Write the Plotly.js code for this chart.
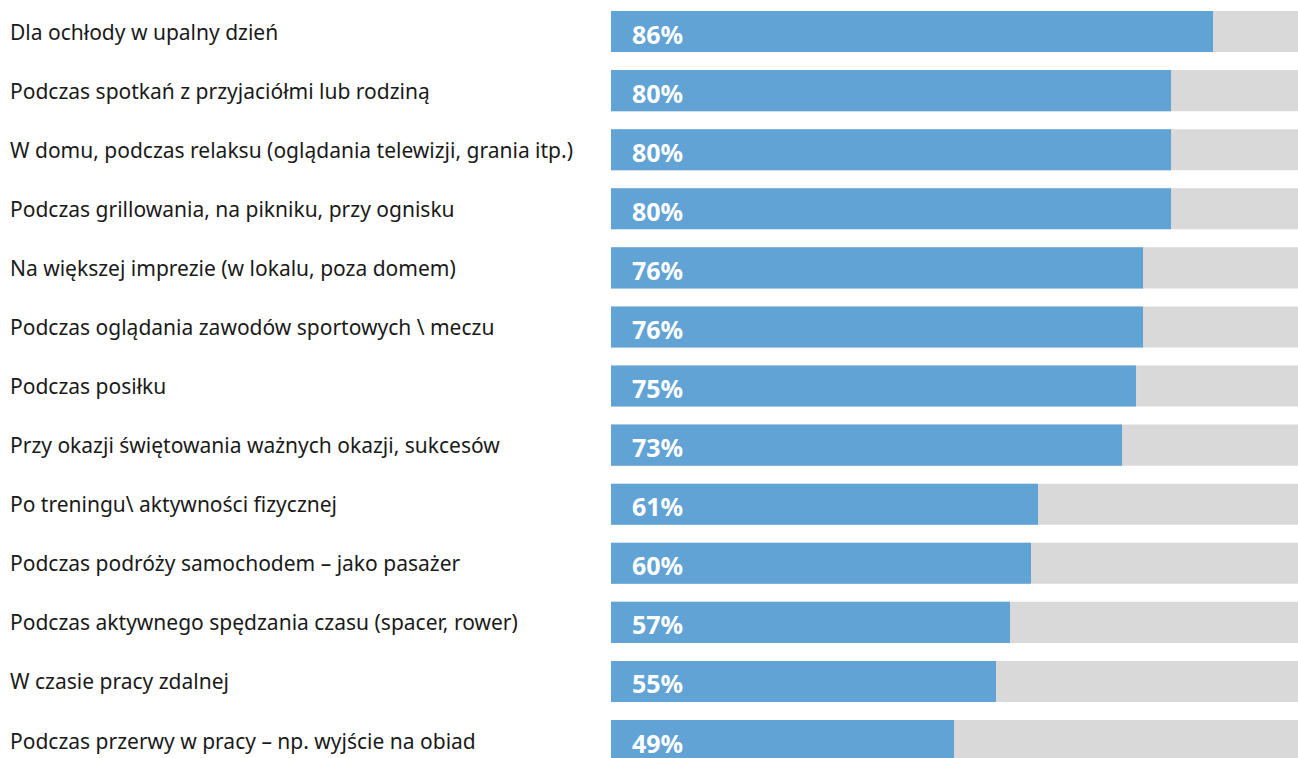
<!DOCTYPE html>
<html>
<head>
<meta charset="utf-8">
<script src="https://cdn.plot.ly/plotly-3.0.1.min.js"></script>
<style>
  html, body { margin: 0; padding: 0; background: #fff; overflow: hidden; }
  #chart { width: 1298px; height: 758px; }
</style>
</head>
<body>
<div id="chart"></div>
<script>
/* ── data ─────────────────────────────────────────────── */
const categories = [
  'Dla ochłody w upalny dzień',
  'Podczas spotkań z przyjaciółmi lub rodziną',
  'W domu, podczas relaksu (oglądania telewizji, grania itp.)',
  'Podczas grillowania, na pikniku, przy ognisku',
  'Na większej imprezie (w lokalu, poza domem)',
  'Podczas oglądania zawodów sportowych \\ meczu',
  'Podczas posiłku',
  'Przy okazji świętowania ważnych okazji, sukcesów',
  'Po treningu\\ aktywności fizycznej',
  'Podczas podróży samochodem – jako pasażer',
  'Podczas aktywnego spędzania czasu (spacer, rower)',
  'W czasie pracy zdalnej',
  'Podczas przerwy w pracy – np. wyjście na obiad',
];
const values = [86, 80, 80, 80, 76, 76, 75, 73, 61, 60, 57, 55, 49];
const fullScale = categories.map(() => 100);

/* ── chart ────────────────────────────────────────────── */
const BLUE = '#62a3d6';
const GRAY = '#d9d9d9';
const FONT = 'Noto Sans, sans-serif';

const data = [
  {
    type: 'bar',
    orientation: 'h',
    y: categories,
    x: fullScale,
    marker: { color: GRAY },
    hoverinfo: 'skip',
  },
  {
    type: 'bar',
    orientation: 'h',
    y: categories,
    x: values,
    marker: { color: BLUE },
    hovertemplate: '%{y}: %{x}%<extra></extra>',
  },
];

// category labels, left aligned near the page edge
const labelAnns = categories.map(c => ({
  xref: 'paper', yref: 'y',
  x: -611 / 687, y: c,
  xanchor: 'left', yanchor: 'middle',
  xshift: 8, yshift: 0,
  text: c,
  showarrow: false,
  font: { family: FONT, size: 21, color: '#1a1a1a' },
}));

// value labels inside the bars
const valueAnns = categories.map((c, i) => ({
  xref: 'x', yref: 'y',
  x: 0, y: c,
  xanchor: 'left', yanchor: 'middle',
  xshift: 19, yshift: -2,
  text: '<b>' + values[i] + '%</b>',
  showarrow: false,
  font: { family: FONT, size: 25, color: '#ffffff' },
}));

const layout = {
  width: 1298,
  height: 758,
  paper_bgcolor: '#ffffff',
  plot_bgcolor: '#ffffff',
  barmode: 'overlay',
  bargap: 0.305,
  showlegend: false,
  margin: { l: 611, r: 0, t: 0, b: 0, pad: 0 },
  xaxis: {
    range: [0, 98.14],
    visible: false,
    fixedrange: true,
  },
  yaxis: {
    type: 'category',
    range: [12.296, -0.534],
    showticklabels: false,
    showgrid: false,
    zeroline: false,
    showline: false,
    ticks: '',
    fixedrange: true,
  },
  annotations: [...labelAnns, ...valueAnns],
};

Plotly.newPlot('chart', data, layout, { displayModeBar: false, staticPlot: true });
</script>
</body>
</html>
